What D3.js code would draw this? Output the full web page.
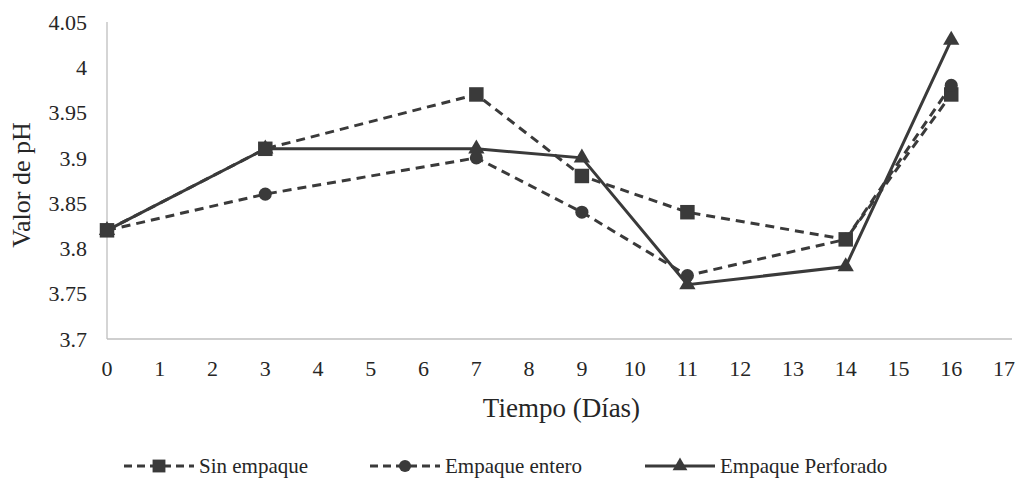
<!DOCTYPE html>
<html>
<head>
<meta charset="utf-8">
<script src="https://cdn.jsdelivr.net/npm/d3@7"></script>
<style>
  html, body { margin: 0; padding: 0; background: #fff; }
  svg { display: block; }
</style>
</head>
<body>
<svg id="chart" width="1027" height="484" font-family="'Times New Roman', 'Liberation Serif', 'DejaVu Serif', serif"></svg>
<script>
// Sampling days and pH readings per packaging type
const days = [0, 3, 7, 9, 11, 14, 16];
const sinEmpaque = [3.82, 3.91, 3.97, 3.88, 3.84, 3.81, 3.97];
const empaqueEntero = [3.82, 3.86, 3.90, 3.84, 3.77, 3.81, 3.98];
const empaquePerforado = [3.82, 3.91, 3.91, 3.90, 3.76, 3.78, 4.03];
const seriesNames = ["Sin empaque", "Empaque entero", "Empaque Perforado"];
const xTicks = d3.range(0, 18);
const yTicks = [3.7, 3.75, 3.8, 3.85, 3.9, 3.95, 4, 4.05];

const ink = "#3a3a3a";
const textInk = "#262626";
const svg = d3.select("#chart");

const plotLeft = 107, plotRight = 1012;
const x = d3.scaleLinear().domain([0, 17]).range([plotLeft, 1004]);
const y = d3.scaleLinear().domain([3.7, 4.05]).range([339, 22]);

// Axis lines
svg.append("line").attr("x1", plotLeft).attr("x2", plotRight).attr("y1", 339).attr("y2", 339)
  .attr("stroke", "#bfbfbf").attr("stroke-width", 1.3);
svg.append("line").attr("x1", plotLeft).attr("x2", plotLeft).attr("y1", 22).attr("y2", 339)
  .attr("stroke", "#bfbfbf").attr("stroke-width", 1.3);

// Tick labels
svg.append("g").selectAll("text").data(yTicks).join("text")
  .attr("x", 87).attr("y", d => y(d)).attr("dy", "0.35em")
  .attr("text-anchor", "end").attr("font-size", 22).attr("fill", textInk)
  .text(d => d3.format("")(d));

svg.append("g").selectAll("text").data(xTicks).join("text")
  .attr("x", d => x(d)).attr("y", 368).attr("dy", "0.35em")
  .attr("text-anchor", "middle").attr("font-size", 22).attr("fill", textInk)
  .text(d => d);

// Axis titles
svg.append("text").attr("x", (plotLeft + plotRight) / 2 + 2).attr("y", 408).attr("dy", "0.35em")
  .attr("text-anchor", "middle").attr("font-size", 27).attr("fill", textInk)
  .text("Tiempo (Días)");
svg.append("text").attr("transform", `translate(21, ${y(3.87)}) rotate(-90)`)
  .attr("dy", "0.35em").attr("text-anchor", "middle").attr("font-size", 26)
  .attr("fill", textInk).text("Valor de pH");

// Marker shapes
const sq = d3.symbol().type(d3.symbolSquare).size(210);
const tri = d3.symbol().type(d3.symbolTriangle).size(115);
const dot = d3.symbol().type(d3.symbolCircle).size(135);
const sqL = d3.symbol().type(d3.symbolSquare).size(165);
const triL = d3.symbol().type(d3.symbolTriangle).size(95);
const dotL = d3.symbol().type(d3.symbolCircle).size(115);

const series = [
  { name: seriesNames[0], values: sinEmpaque, dash: "9,6", shape: sq, legendShape: sqL },
  { name: seriesNames[1], values: empaqueEntero, dash: "9,6", shape: dot, legendShape: dotL },
  { name: seriesNames[2], values: empaquePerforado, dash: null, shape: tri, legendShape: triL }
];

const line = d3.line().x(d => x(d[0])).y(d => y(d[1]));

series.forEach(s => {
  const pts = days.map((d, i) => [d, s.values[i]]);
  const g = svg.append("g");
  g.append("path").attr("d", line(pts)).attr("fill", "none")
    .attr("stroke", ink).attr("stroke-width", 3)
    .attr("stroke-dasharray", s.dash);
  g.selectAll("path.m").data(pts).join("path").attr("class", "m")
    .attr("transform", d => `translate(${x(d[0])},${y(d[1])})`)
    .attr("d", s.shape()).attr("fill", ink);
});

// Legend
const legendX = [124, 370, 645];
series.forEach((s, i) => {
  const g = svg.append("g").attr("transform", `translate(${legendX[i]}, 466)`);
  g.append("line").attr("x1", 0).attr("x2", 70).attr("y1", 0).attr("y2", 0)
    .attr("stroke", ink).attr("stroke-width", 3)
    .attr("stroke-dasharray", s.dash ? "8,5" : null);
  g.append("path").attr("transform", "translate(35,0)").attr("d", s.legendShape()).attr("fill", ink);
  g.append("text").attr("x", 75).attr("y", 0).attr("dy", "0.35em")
    .attr("font-size", 21).attr("fill", textInk).text(s.name);
});
</script>
</body>
</html>
